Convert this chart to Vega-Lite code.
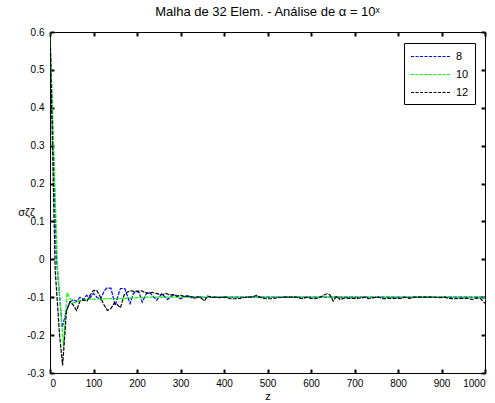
{
  "$schema": "https://vega.github.io/schema/vega-lite/v6.json",
  "width": 435,
  "height": 341,
  "autosize": {"type": "none"},
  "padding": {"left": 50, "top": 32, "right": 10, "bottom": 30},
  "background": "white",
  "title": {"text": "Malha de 32 Elem. - Análise de α = 10ˣ", "font": "Liberation Sans", "fontSize": 13, "fontWeight": "normal", "color": "black", "offset": 8},
  "config": {
    "view": {"stroke": "black", "strokeWidth": 1},
    "axis": {"labelFont": "Liberation Sans", "titleFont": "Liberation Sans", "labelFontSize": 10, "titleFontSize": 11, "titleFontWeight": "normal", "labelColor": "black", "titleColor": "black", "grid": false, "domain": false, "ticks": true, "tickColor": "#000000", "tickSize": -4, "tickWidth": 2, "tickOpacity": 1, "zindex": 2}
  },
  "data": {"values": [
    {"a":"8","z":0,"s":0.6},{"a":"8","z":15,"s":0.0},{"a":"8","z":28,"s":-0.18},{"a":"8","z":38,"s":-0.135},{"a":"8","z":46,"s":-0.113},{"a":"8","z":54,"s":-0.106},{"a":"8","z":61,"s":-0.111},{"a":"8","z":69,"s":-0.1},{"a":"8","z":77,"s":-0.106},{"a":"8","z":84,"s":-0.095},{"a":"8","z":92,"s":-0.102},{"a":"8","z":100,"s":-0.09},{"a":"8","z":108,"s":-0.1},{"a":"8","z":116,"s":-0.106},{"a":"8","z":124,"s":-0.085},{"a":"8","z":130,"s":-0.076},{"a":"8","z":140,"s":-0.076},{"a":"8","z":150,"s":-0.122},{"a":"8","z":158,"s":-0.09},{"a":"8","z":162,"s":-0.077},{"a":"8","z":172,"s":-0.077},{"a":"8","z":184,"s":-0.117},{"a":"8","z":192,"s":-0.09},{"a":"8","z":198,"s":-0.084},{"a":"8","z":205,"s":-0.088},{"a":"8","z":212,"s":-0.113},{"a":"8","z":222,"s":-0.089},{"a":"8","z":230,"s":-0.088},{"a":"8","z":245,"s":-0.108},{"a":"8","z":257,"s":-0.091},{"a":"8","z":270,"s":-0.106},{"a":"8","z":285,"s":-0.093},{"a":"8","z":300,"s":-0.104},{"a":"8","z":315,"s":-0.096},{"a":"8","z":330,"s":-0.103},{"a":"8","z":345,"s":-0.099},{"a":"8","z":360,"s":-0.101},{"a":"8","z":380,"s":-0.1},{"a":"8","z":500,"s":-0.1},{"a":"8","z":700,"s":-0.1},{"a":"8","z":1000,"s":-0.1},
    {"a":"10","z":0,"s":0.6},{"a":"10","z":8,"s":0.31},{"a":"10","z":17,"s":-0.02},{"a":"10","z":31,"s":-0.23},{"a":"10","z":39,"s":-0.088},{"a":"10","z":47,"s":-0.105},{"a":"10","z":55,"s":-0.115},{"a":"10","z":63,"s":-0.112},{"a":"10","z":72,"s":-0.108},{"a":"10","z":85,"s":-0.106},{"a":"10","z":100,"s":-0.105},{"a":"10","z":130,"s":-0.104},{"a":"10","z":170,"s":-0.103},{"a":"10","z":220,"s":-0.1},{"a":"10","z":400,"s":-0.1},{"a":"10","z":700,"s":-0.1},{"a":"10","z":1000,"s":-0.1},
    {"a":"12","z":0,"s":0.6},{"a":"12","z":12,"s":-0.03},{"a":"12","z":22,"s":-0.2},{"a":"12","z":29,"s":-0.28},{"a":"12","z":38,"s":-0.135},{"a":"12","z":46,"s":-0.112},{"a":"12","z":53,"s":-0.12},{"a":"12","z":61,"s":-0.135},{"a":"12","z":69,"s":-0.11},{"a":"12","z":77,"s":-0.107},{"a":"12","z":85,"s":-0.11},{"a":"12","z":92,"s":-0.095},{"a":"12","z":100,"s":-0.082},{"a":"12","z":108,"s":-0.083},{"a":"12","z":116,"s":-0.1},{"a":"12","z":124,"s":-0.12},{"a":"12","z":132,"s":-0.135},{"a":"12","z":140,"s":-0.13},{"a":"12","z":148,"s":-0.115},{"a":"12","z":155,"s":-0.12},{"a":"12","z":162,"s":-0.128},{"a":"12","z":170,"s":-0.095},{"a":"12","z":178,"s":-0.086},{"a":"12","z":186,"s":-0.083},{"a":"12","z":195,"s":-0.085},{"a":"12","z":203,"s":-0.084},{"a":"12","z":211,"s":-0.083},{"a":"12","z":219,"s":-0.088},{"a":"12","z":227,"s":-0.09},{"a":"12","z":235,"s":-0.087},{"a":"12","z":243,"s":-0.09},{"a":"12","z":251,"s":-0.092},{"a":"12","z":259,"s":-0.093},{"a":"12","z":267,"s":-0.09},{"a":"12","z":275,"s":-0.094},{"a":"12","z":283,"s":-0.093},{"a":"12","z":291,"s":-0.097},{"a":"12","z":300,"s":-0.095},{"a":"12","z":310,"s":-0.098},{"a":"12","z":320,"s":-0.097},{"a":"12","z":330,"s":-0.1},{"a":"12","z":340,"s":-0.099},{"a":"12","z":348,"s":-0.103},{"a":"12","z":355,"s":-0.11},{"a":"12","z":362,"s":-0.097},{"a":"12","z":375,"s":-0.1},{"a":"12","z":390,"s":-0.101},{"a":"12","z":405,"s":-0.1},{"a":"12","z":414,"s":-0.104},{"a":"12","z":425,"s":-0.104},{"a":"12","z":437,"s":-0.103},{"a":"12","z":450,"s":-0.1},{"a":"12","z":465,"s":-0.099},{"a":"12","z":475,"s":-0.095},{"a":"12","z":487,"s":-0.102},{"a":"12","z":498,"s":-0.104},{"a":"12","z":510,"s":-0.104},{"a":"12","z":520,"s":-0.102},{"a":"12","z":535,"s":-0.1},{"a":"12","z":550,"s":-0.1},{"a":"12","z":567,"s":-0.1},{"a":"12","z":579,"s":-0.104},{"a":"12","z":590,"s":-0.1},{"a":"12","z":600,"s":-0.103},{"a":"12","z":610,"s":-0.104},{"a":"12","z":620,"s":-0.101},{"a":"12","z":630,"s":-0.094},{"a":"12","z":637,"s":-0.091},{"a":"12","z":644,"s":-0.094},{"a":"12","z":651,"s":-0.11},{"a":"12","z":659,"s":-0.097},{"a":"12","z":667,"s":-0.106},{"a":"12","z":678,"s":-0.102},{"a":"12","z":690,"s":-0.103},{"a":"12","z":705,"s":-0.103},{"a":"12","z":716,"s":-0.102},{"a":"12","z":724,"s":-0.1},{"a":"12","z":732,"s":-0.104},{"a":"12","z":745,"s":-0.101},{"a":"12","z":755,"s":-0.1},{"a":"12","z":766,"s":-0.104},{"a":"12","z":778,"s":-0.103},{"a":"12","z":790,"s":-0.103},{"a":"12","z":808,"s":-0.103},{"a":"12","z":816,"s":-0.1},{"a":"12","z":824,"s":-0.103},{"a":"12","z":839,"s":-0.1},{"a":"12","z":860,"s":-0.1},{"a":"12","z":880,"s":-0.1},{"a":"12","z":895,"s":-0.101},{"a":"12","z":908,"s":-0.1},{"a":"12","z":916,"s":-0.103},{"a":"12","z":930,"s":-0.104},{"a":"12","z":945,"s":-0.103},{"a":"12","z":962,"s":-0.103},{"a":"12","z":970,"s":-0.106},{"a":"12","z":981,"s":-0.102},{"a":"12","z":990,"s":-0.104},{"a":"12","z":1000,"s":-0.116}
  ]},
  "layer": [
    {
      "mark": {"type": "line", "strokeWidth": 1.2, "strokeDash": [4, 1.2], "clip": true},
      "encoding": {
        "x": {"field": "z", "type": "quantitative", "scale": {"domain": [0, 1000], "nice": false},
          "axis": {"values": [0,100,200,300,400,500,600,700,800,900,1000], "format": "d", "title": "z", "labelPadding": 9, "titlePadding": 2}},
        "y": {"field": "s", "type": "quantitative", "scale": {"domain": [-0.3, 0.6], "nice": false, "zero": false},
          "axis": {"values": [-0.3,-0.2,-0.1,0,0.1,0.2,0.3,0.4,0.5,0.6], "labelExpr": "replace(format(datum.value, '.1~f'), '−', '-')", "labelPadding": 10, "title": "σζζ", "titleAngle": 0, "titleAlign": "center", "titleBaseline": "middle", "titleX": -24, "titleY": 180}},
        "color": {"field": "a", "type": "nominal", "scale": {"domain": ["8", "10", "12"], "range": ["#0000ff", "#00ff00", "#000000"]},
          "legend": {"title": null, "orient": "none", "legendX": 354, "legendY": 11, "strokeColor": "black", "fillColor": "white", "padding": 6, "symbolType": "M-1,0H5", "symbolSize": 169, "symbolStrokeWidth": 1.2, "symbolDash": [3, 1.5], "labelOffset": 31, "rowPadding": 5, "labelFont": "Liberation Sans", "labelFontSize": 11, "labelColor": "black"}}
      }
    },
    {
      "mark": {"type": "line", "opacity": 0},
      "encoding": {
        "x": {"field": "z", "type": "quantitative", "axis": {"orient": "top", "values": [0,100,200,300,400,500,600,700,800,900,1000], "labels": false, "title": null}},
        "y": {"field": "s", "type": "quantitative", "axis": {"orient": "right", "values": [-0.3,-0.2,-0.1,0,0.1,0.2,0.3,0.4,0.5,0.6], "labels": false, "title": null}}
      }
    }
  ],
  "resolve": {"axis": {"x": "independent", "y": "independent"}}
}
